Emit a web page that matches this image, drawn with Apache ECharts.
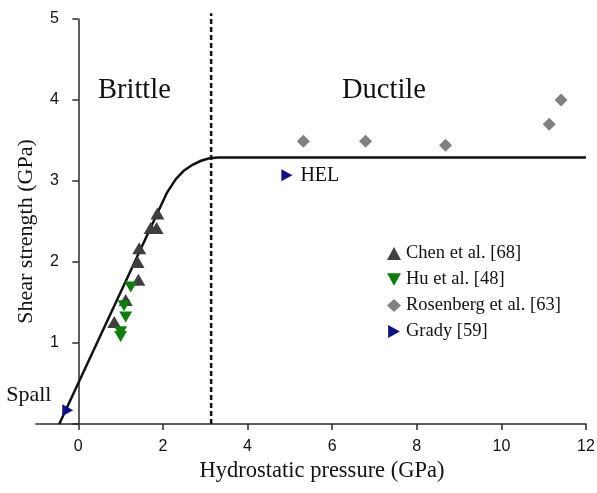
<!DOCTYPE html>
<html><head><meta charset="utf-8">
<script src="https://cdn.jsdelivr.net/npm/echarts@6/dist/echarts.min.js"></script>
<style>html,body{margin:0;padding:0;background:#fff}#c{width:597px;height:493px}</style>
</head><body><div id="c"></div>
<script>
var xTicks = [0, 2, 4, 6, 8, 10, 12];
var yTicks = [0, 1, 2, 3, 4, 5];
var chenData = [[1.87,2.60],[1.71,2.42],[1.85,2.42],[1.44,2.17],[1.40,2.00],[1.42,1.78],[1.12,1.53],[0.85,1.26]];
var huData = [[1.24,1.69],[1.08,1.46],[1.12,1.32],[1.00,1.14],[1.00,1.08]];
var rosenbergData = [[5.32,3.49],[6.79,3.49],[8.68,3.44],[11.13,3.70],[11.41,4.00]];
var gradyData = [[4.93,3.07],[-0.25,0.17]];
var gradyLabels = ['HEL', 'Spall'];
var curveData = [[-0.45,0],[2.1,2.86],[2.3,3.02],[2.5,3.13],[2.7,3.20],[2.9,3.25],[3.1,3.28],[3.3,3.29],[12,3.29]];
var boundaryData = [[3.14,0],[3.14,5.07]];

var serif = "'Liberation Serif','DejaVu Serif',serif";
var sans = "'Liberation Sans',Arial,sans-serif";
var downTri = 'path://M0,0 L10,0 L5,9 Z';
var rightTri = 'path://M0,0 L9,5 L0,10 Z';
var chart = echarts.init(document.getElementById('c'));
chart.setOption({
  animation: false,
  grid: {left: 36, right: 11, top: 19, bottom: 69, containLabel: false, outerBoundsMode: 'none'},
  xAxis: {
    type: 'value', min: -1, max: 12,
    name: 'Hydrostatic pressure (GPa)', nameLocation: 'middle', nameGap: 35,
    nameTextStyle: {fontFamily: serif, fontSize: 22.5, color: '#111', padding: [0, 0, 0, 22]},
    axisLine: {onZero: false, lineStyle: {color: '#2a2a2a', width: 1.5}},
    axisTick: {show: true, length: 6, customValues: xTicks, lineStyle: {color: '#2a2a2a', width: 1.5}},
    axisLabel: {customValues: xTicks, margin: 15, fontFamily: sans, fontSize: 16, color: '#111'},
    splitLine: {show: false}
  },
  yAxis: {
    type: 'value', min: 0, max: 5, interval: 1,
    name: 'Shear strength (GPa)', nameLocation: 'middle', nameGap: -1,
    nameTextStyle: {fontFamily: serif, fontSize: 22, color: '#111', padding: [0, 20, 0, 0]},
    axisLine: {show: true, onZero: true, lineStyle: {color: '#2a2a2a', width: 1.5}},
    axisTick: {show: true, length: 6, lineStyle: {color: '#2a2a2a', width: 1.5}},
    axisLabel: {margin: -23, fontFamily: sans, fontSize: 16, color: '#111',
      formatter: function (v) { return v === 0 ? '' : String(v); }},
    splitLine: {show: false}
  },
  legend: {
    orient: 'vertical', left: 382, top: 239, itemGap: 7, itemWidth: 14, itemHeight: 13,
    textStyle: {fontFamily: serif, fontSize: 18.5, color: '#111'},
    data: [
      {name: 'Chen et al. [68]', icon: 'triangle'},
      {name: 'Hu et al. [48]', icon: downTri},
      {name: 'Rosenberg et al. [63]', icon: 'diamond'},
      {name: 'Grady [59]', icon: rightTri}
    ]
  },
  graphic: [
    {type: 'text', left: 98, top: 76, style: {text: 'Brittle', font: "28.5px " + serif, fill: '#111'}},
    {type: 'text', left: 342, top: 76, style: {text: 'Ductile', font: "28.5px " + serif, fill: '#111'}}
  ],
  series: [
    {type: 'line', name: 'curve', data: curveData, showSymbol: false, symbol: 'none', smooth: false,
     lineStyle: {color: '#111', width: 2.5}, z: 3, silent: true},
    {type: 'line', name: 'boundary', data: boundaryData, showSymbol: false, symbol: 'none', clip: false,
     lineStyle: {color: '#111', width: 2.5, type: [5, 3]}, z: 3, silent: true},
    {type: 'scatter', name: 'Chen et al. [68]', data: chenData, symbol: 'triangle', symbolSize: [14, 12],
     itemStyle: {color: '#3f3f3f', opacity: 1}, z: 4},
    {type: 'scatter', name: 'Hu et al. [48]', data: huData, symbol: downTri, symbolSize: [13, 11],
     itemStyle: {color: '#0a800a', opacity: 1}, z: 4},
    {type: 'scatter', name: 'Rosenberg et al. [63]', data: rosenbergData, symbol: 'diamond', symbolSize: 13,
     itemStyle: {color: '#808080', opacity: 1}, z: 4},
    {type: 'scatter', name: 'Grady [59]', symbol: rightTri, symbolSize: [11, 12],
     itemStyle: {color: '#101088', opacity: 1}, z: 4,
     data: gradyData.map(function (d, i) {
       return {value: d, label: {show: true, formatter: gradyLabels[i],
         position: i === 0 ? 'right' : [-56, -20], distance: 8,
         fontFamily: serif, fontSize: i === 0 ? 20 : 22, color: '#111'}};
     })}
  ]
});
</script></body></html>
